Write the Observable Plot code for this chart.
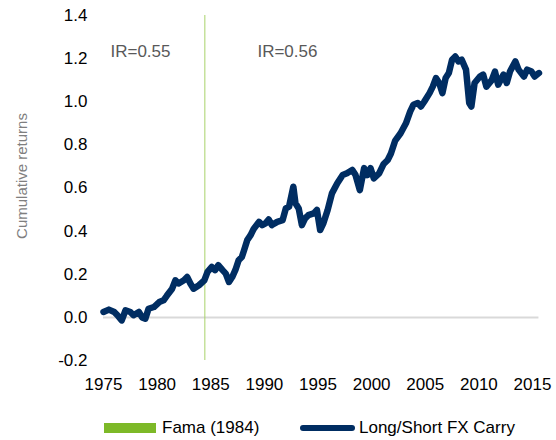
<!DOCTYPE html>
<html>
<head>
<meta charset="utf-8">
<script src="https://cdn.jsdelivr.net/npm/d3@7"></script>
<script src="https://cdn.jsdelivr.net/npm/@observablehq/plot@0.6"></script>
<style>
  html, body { margin: 0; padding: 0; background: #fff; }
  body { font-family: "Liberation Sans", Arial, sans-serif; width: 556px; }
  #legend { position: relative; height: 40px; width: 556px; }
  #legend .sw { position: absolute; }
  #legend .lbl { position: absolute; font-size: 17px; color: #000; line-height: 20px; top: 18px; }
</style>
</head>
<body>
<div id="chart"></div>
<div id="legend"></div>
<script>
const years = [1975.0,1975.5,1976.0,1976.3,1976.7,1977.05,1977.5,1977.8,1978.3,1978.6,1978.9,1979.2,1979.7,1980.2,1980.6,1980.9,1981.4,1981.7,1982.0,1982.5,1982.8,1983.1,1983.4,1983.9,1984.4,1984.7,1985.1,1985.4,1985.7,1986.1,1986.4,1986.7,1987.0,1987.3,1987.6,1987.9,1988.1,1988.4,1988.7,1989.0,1989.5,1989.8,1990.1,1990.4,1990.7,1991.2,1991.7,1992.0,1992.3,1992.7,1992.9,1993.2,1993.5,1993.8,1994.1,1994.6,1994.9,1995.2,1995.5,1995.9,1996.3,1996.8,1997.3,1997.7,1998.2,1998.5,1998.9,1999.3,1999.6,1999.9,2000.2,2000.7,2001.1,2001.5,2001.8,2002.2,2002.7,2003.2,2003.6,2003.9,2004.3,2004.6,2004.9,2005.4,2005.7,2006.0,2006.3,2006.6,2006.9,2007.2,2007.5,2007.8,2008.1,2008.4,2008.8,2009.1,2009.3,2009.6,2010.1,2010.4,2010.7,2011.2,2011.5,2011.8,2012.3,2012.6,2012.9,2013.4,2013.7,2014.2,2014.5,2014.9,2015.2,2015.6];
const carry = [0.025,0.036,0.025,0.010,-0.014,0.033,0.025,0.010,0.025,0.000,-0.006,0.040,0.048,0.071,0.079,0.100,0.133,0.172,0.157,0.172,0.187,0.157,0.133,0.149,0.172,0.211,0.234,0.219,0.242,0.219,0.203,0.164,0.187,0.220,0.265,0.280,0.310,0.358,0.380,0.410,0.443,0.428,0.436,0.454,0.428,0.443,0.451,0.505,0.513,0.606,0.529,0.505,0.428,0.459,0.474,0.482,0.498,0.405,0.436,0.498,0.575,0.622,0.660,0.668,0.684,0.660,0.590,0.692,0.660,0.692,0.645,0.668,0.710,0.730,0.760,0.820,0.854,0.900,0.955,0.986,0.994,0.978,1.000,1.040,1.070,1.110,1.087,1.040,1.110,1.133,1.195,1.210,1.187,1.195,1.149,0.994,0.978,1.087,1.117,1.126,1.070,1.100,1.140,1.079,1.126,1.087,1.140,1.187,1.149,1.117,1.149,1.140,1.117,1.133];
const xTicks = [1975,1980,1985,1990,1995,2000,2005,2010,2015];
const yTicks = [-0.2,0,0.2,0.4,0.6,0.8,1.0,1.2,1.4];
const famaYear = [1984.45];
const irLabels = ["IR=0.55","IR=0.56"];
const irYears = [1975.65,1989.35];
const irValues = [1.233,1.233];
const seriesNames = ["Fama (1984)","Long/Short FX Carry"];
const yTitle = "Cumulative returns";

const NAVY = "#002D62";
const GREEN = "#7DB928";
const data = years.map((y,i)=>({year:y, value:carry[i]}));
const irData = irLabels.map((t,i)=>({text:t, year:irYears[i], value:irValues[i]}));

const chart = Plot.plot({
  width: 556,
  height: 400,
  marginLeft: 103,
  marginRight: 24,
  marginTop: 15,
  marginBottom: 40,
  style: {fontFamily: '"Liberation Sans", Arial, sans-serif', fontSize: "17px", color: "#000", background: "#fff"},
  x: {domain: [1975, 2015]},
  y: {domain: [-0.2, 1.4]},
  marks: [
    Plot.ruleY([0], {x1: years[0], x2: years[years.length-1], stroke: "#D9D9D9", strokeWidth: 2}),
    Plot.ruleX(famaYear, {stroke: "#A8D26A", strokeWidth: 1}),
    Plot.line(data, {x: "year", y: "value", stroke: NAVY, strokeWidth: 6.5, strokeLinejoin: "round", strokeLinecap: "round", clip: false}),
    Plot.text(irData, {x: "year", y: "value", text: "text", textAnchor: "start", fill: "#595959", fontSize: 17}),
    Plot.axisX({ticks: xTicks, tickFormat: d => String(d), tickSize: 0, tickPadding: 17, label: null, fill: "#000"}),
    Plot.axisY({ticks: yTicks, tickFormat: d => d.toFixed(1), tickSize: 0, tickPadding: 16, label: null, fill: "#000"}),
    Plot.text([yTitle], {frameAnchor: "left", textAnchor: "middle", dx: -81, dy: -12, rotate: -90, fill: "#7F7F7F", fontSize: 15, text: d => d})
  ]
});
document.getElementById("chart").appendChild(chart);

const lg = document.getElementById("legend");
lg.innerHTML = `
  <div class="sw" style="left:104px;top:23px;width:52px;height:10px;background:${GREEN}"></div>
  <div class="lbl" style="left:162px">${seriesNames[0]}</div>
  <div class="sw" style="left:300px;top:25px;width:55px;height:6px;border-radius:3px;background:${NAVY}"></div>
  <div class="lbl" style="left:359px">${seriesNames[1]}</div>
`;
</script>
</body>
</html>
